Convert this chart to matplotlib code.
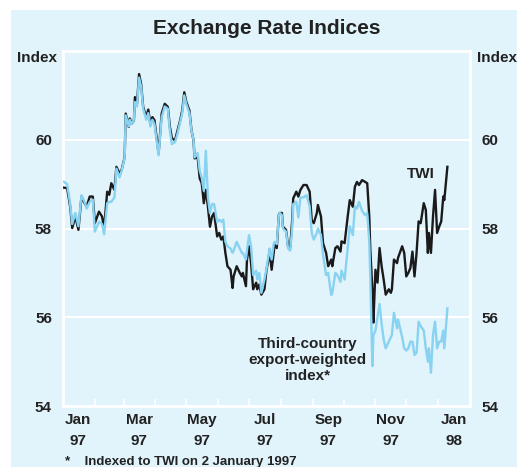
import matplotlib
matplotlib.use("Agg")
import matplotlib.pyplot as plt
import pandas as pd

plt.rcParams['font.family'] = ['Liberation Sans', 'DejaVu Sans']
plt.rcParams['font.weight'] = 'bold'

# days after 1 Jan 1997
days = [1, 4, 7, 9, 12, 15, 18, 21, 23, 26, 29, 31, 35, 38, 40, 43, 45, 47, 50, 52,
        55, 57, 60, 61, 64, 65, 67, 69, 70, 72, 74, 76, 78, 81, 83, 85, 87, 89, 91, 93,
        96, 99, 102, 104,
        106, 109, 111, 114, 116, 118, 120, 123, 125, 127, 128, 131, 133, 135, 137, 139,
        141, 143, 145, 147, 150, 152, 154, 156, 158, 160, 163, 165, 166, 169, 172, 174,
        175, 178, 179, 181, 183, 185, 188, 189, 191, 193, 196, 198, 200, 201,
        203, 205, 206, 208, 210, 211, 213, 214, 217, 219, 221, 223, 224, 227, 229, 231,
        234, 237, 240, 242, 244, 247, 248, 251, 253, 256, 258, 261, 262, 265, 267, 270,
        271, 274, 277, 279, 282, 284, 286, 288, 291,
        294, 296, 298, 299, 301, 302, 304, 306, 308, 310, 312, 314, 317, 319, 320, 322,
        325, 326, 330, 332, 334, 336, 338, 340, 342, 344, 346, 348, 351, 353, 355, 356,
        358, 360, 362, 364, 366, 368, 370, 371, 374]

twi = [58.92, 58.91, 58.49, 58.01, 58.27, 57.97, 58.72, 58.57, 58.49, 58.72,
       58.72, 58.12, 58.38, 58.27, 58.01, 58.83, 58.76, 59.02, 58.87, 59.39,
       59.24, 59.32, 59.61, 60.59, 60.29, 60.48, 60.36, 60.44, 60.96, 60.81,
       61.48, 61.26, 60.74, 60.51, 60.68, 60.36, 60.51, 60.44, 60.06, 59.69,
       60.59, 60.81, 60.74, 60.29,
       60.03, 59.99, 60.17, 60.44, 60.66, 61.07, 60.85, 60.66, 60.21, 59.99,
       59.58, 59.61, 59.13, 59.02, 58.57, 58.87, 58.49, 58.04, 58.27, 58.35,
       57.82, 57.90, 57.75, 57.82, 57.45, 57.15, 57.07, 56.66, 56.92, 57.15,
       57.00, 56.92, 57.00, 56.70, 57.30, 57.60, 57.22, 56.63, 56.78, 56.63,
       56.74, 56.51, 56.63, 57.07, 57.30, 57.52,
       57.07, 57.45, 57.67, 57.56, 58.31, 58.35, 58.35, 58.04, 57.97, 57.60,
       57.56, 58.19, 58.68, 58.83, 58.72, 58.87, 58.98, 58.98, 58.83, 58.19,
       58.12, 58.35, 58.53, 58.27, 57.67, 57.45, 57.15, 57.30, 57.15, 57.56,
       57.60, 57.48, 57.71, 57.67, 58.27, 58.64, 58.49, 58.94, 59.05, 58.98,
       59.09,
       59.05, 59.02, 58.27, 57.52, 56.63, 55.88, 57.07, 56.78, 57.56, 57.15,
       56.85, 56.51, 56.63, 56.55, 56.63, 57.30, 57.22, 57.34, 57.60, 57.45,
       56.92, 57.00, 57.11, 57.48, 56.92, 57.45, 58.16, 58.12, 58.57, 58.42,
       57.45, 57.90, 57.45, 58.27, 58.87, 57.90, 58.04, 58.16, 58.72, 58.64,
       59.39]

third = [59.05, 59.00, 58.55, 58.10, 58.35, 58.05, 58.75, 58.60, 58.45, 58.60,
         58.65, 57.93, 58.15, 58.10, 57.87, 58.57, 58.60, 58.60, 58.70, 59.35,
         59.15, 59.30, 59.60, 60.55, 60.30, 60.45, 60.35, 60.45, 60.85, 60.75,
         61.40, 61.20, 60.70, 60.45, 60.60, 60.30, 60.45, 60.35, 60.00, 59.65,
         60.50, 60.75, 60.70, 60.20,
         59.90, 59.95, 60.10, 60.40, 60.60, 61.00, 60.80, 60.60, 60.20, 60.00,
         59.60, 59.70, 59.30, 59.15, 58.85, 59.75, 58.70, 58.35, 58.55, 58.55,
         58.15, 58.20, 58.15, 58.20, 57.70, 57.60, 57.55, 57.45, 57.50, 57.70,
         57.55, 57.45, 57.45, 57.30, 57.50, 57.85, 57.60, 56.95, 57.05, 56.85,
         57.00, 56.55, 56.85, 57.10, 57.40, 57.55,
         57.30, 57.65, 57.70, 57.65, 58.30, 58.35, 58.30, 58.00, 57.93, 57.55,
         57.50, 58.00, 58.55, 58.60, 58.25, 58.70, 58.70, 58.75, 58.50, 57.90,
         57.75, 57.90, 58.00, 57.85, 57.40, 56.95, 57.00, 56.50, 56.55, 57.00,
         56.95, 56.80, 57.05, 56.85, 57.55, 58.05, 57.85, 58.50, 58.45, 58.60,
         58.40,
         58.30, 58.35, 57.70, 56.90, 54.90, 55.60, 55.70, 56.00, 56.30, 55.85,
         55.50, 55.30, 55.45, 55.55, 55.60, 56.10, 55.75, 55.95, 55.55, 55.30,
         55.25, 55.30, 55.45, 55.45, 55.15, 55.20, 55.90, 55.80, 55.70, 55.30,
         55.00, 55.30, 54.75, 55.60, 55.90, 55.30, 55.45, 55.45, 55.70, 55.30,
         56.20]

month_labels = ['Jan\n97', 'Feb\n97', 'Mar\n97', 'Apr\n97', 'May\n97', 'Jun\n97', 'Jul\n97',
                'Aug\n97', 'Sep\n97', 'Oct\n97', 'Nov\n97', 'Dec\n97', 'Jan\n98']
y_ticks = [54, 56, 58, 60]

dates = pd.Timestamp('1997-01-01') + pd.to_timedelta(days, unit='D')
month_starts = pd.date_range('1997-01-01', '1998-02-01', freq='MS')
mid_months = month_starts[:-1] + pd.Timedelta(days=15)

bg = '#e1f3fb'
ink = '#222222'
fig = plt.figure(figsize=(5.17, 4.67), dpi=100)
fig.patch.set_facecolor('white')
fig.patches.append(plt.Rectangle((11 / 517, 0), 1, 457 / 467, transform=fig.transFigure,
                                 facecolor=bg, edgecolor='none', zorder=-5))

ax = fig.add_axes([63 / 517, 61 / 467, 407 / 517, 355 / 467])
ax.set_facecolor(bg)

ax.plot(dates, twi, color='#1a1a1a', lw=1.7, zorder=3)
ax.plot(dates, third, color='#88d2f2', lw=1.7, zorder=4)

ax.set_xlim(month_starts[0], month_starts[-1])
ax.set_ylim(54, 62)

for s in ax.spines.values():
    s.set_color('white')
    s.set_linewidth(2)

ax.set_yticks(y_ticks)
ax.set_yticklabels([str(v) for v in y_ticks])
ax.yaxis.grid(True, color='white', lw=1.5)
ax.tick_params(axis='y', length=0, pad=8, labelsize=11, labelcolor=ink,
               left=True, right=True, labelleft=True, labelright=True)

ax.set_xticks(month_starts)
ax.set_xticklabels([])
ax.set_xticks(mid_months, minor=True)
ax.set_xticklabels(['' if i % 2 else lab for i, lab in enumerate(month_labels)],
                   minor=True, linespacing=1.6)
ax.tick_params(axis='x', which='major', direction='in', length=5, width=1.2,
               color='white')
ax.tick_params(axis='x', which='minor', length=0, pad=5, labelsize=11,
               labelcolor=ink)
ax.set_axisbelow(True)

fig.text(37 / 517, 1 - 58 / 467, 'Index', ha='center', va='center', fontsize=11,
         color=ink)
fig.text(477 / 517, 1 - 58 / 467, 'Index', ha='left', va='center', fontsize=11,
         color=ink)
fig.text(267 / 517, 1 - 29 / 467, 'Exchange Rate Indices', ha='center', va='center',
         fontsize=15, color=ink)
fig.text(65 / 517, 1 - 462 / 467, '*    Indexed to TWI on 2 January 1997', ha='left',
         va='center', fontsize=9.5, color=ink)

ax.text(pd.Timestamp('1997-12-15'), 59.22, 'TWI', ha='center', va='center',
        fontsize=11, color=ink)
ax.text(pd.Timestamp('1997-08-27'), 55.03, 'Third-country\nexport-weighted\nindex*',
        ha='center', va='center', fontsize=11, color=ink, linespacing=1.2)

fig.savefig('out.png', dpi=100, facecolor=fig.get_facecolor())
